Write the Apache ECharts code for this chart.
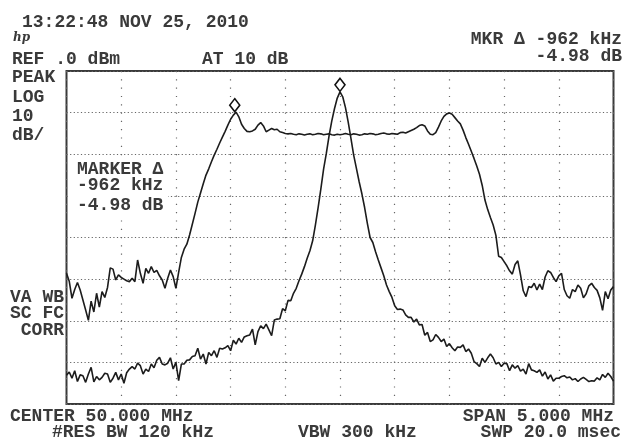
<!DOCTYPE html>
<html>
<head>
<meta charset="utf-8">
<script src="https://cdn.jsdelivr.net/npm/echarts@6/dist/echarts.min.js"></script>
<style>
  html, body { margin: 0; padding: 0; background: #fff; }
  #chart { width: 626px; height: 440px; }
</style>
</head>
<body>
<div id="chart"></div>
<script>
// sweep: 47.5 .. 52.5 MHz, 201 points (0.025 MHz apart)
var startFreq = 47.5;
var stopFreq = 52.5;
var freqStep = 0.025;

// wide (flat-top) signal trace, dBm
var wideLevels = [
  -48.6,-50.5,-54.6,-52.5,-50.8,-52.6,-55.0,-57.4,-59.9,-55.3,
  -57.9,-53.4,-56.7,-53.0,-54.4,-52.0,-47.3,-47.6,-50.2,-49.0,
  -49.6,-50.0,-50.4,-50.6,-49.8,-50.6,-45.4,-48.6,-51.0,-47.4,
  -48.6,-47.0,-48.4,-47.9,-49.2,-50.2,-52.2,-49.8,-47.8,-49.4,
  -52.2,-48.4,-44.8,-42.8,-41.6,-39.4,-36.8,-34.2,-31.5,-29.3,
  -27.1,-25.0,-23.5,-21.8,-20.2,-18.8,-17.3,-15.9,-14.5,-13.0,
  -11.6,-10.6,-9.9,-11.0,-12.8,-13.8,-14.5,-14.6,-14.4,-14.0,
  -13.0,-12.4,-13.2,-14.6,-14.2,-13.8,-14.1,-14.0,-14.6,-14.8,
  -15.0,-15.1,-15.0,-15.2,-15.3,-15.1,-15.2,-15.4,-15.2,-15.1,
  -15.3,-15.2,-15.0,-15.1,-15.3,-15.2,-15.1,-15.3,-15.4,-15.2,
  -15.3,-15.2,-15.0,-15.2,-15.3,-15.1,-15.2,-15.4,-15.3,-15.1,
  -15.2,-15.0,-15.1,-15.3,-15.2,-15.0,-14.9,-15.1,-15.2,-15.0,
  -15.1,-15.2,-14.8,-14.7,-14.9,-14.6,-14.3,-14.0,-13.6,-13.1,
  -12.9,-13.2,-14.4,-15.2,-15.3,-14.8,-13.5,-12.0,-10.9,-10.3,
  -10.1,-10.4,-11.2,-12.0,-12.7,-14.2,-16.0,-17.6,-19.3,-21.0,
  -22.8,-24.8,-27.5,-31.0,-33.3,-35.2,-37.0,-39.5,-44.5,-44.8,
  -45.8,-46.8,-48.0,-48.8,-46.5,-45.6,-49.0,-52.8,-54.2,-51.8,
  -52.0,-51.0,-52.6,-51.2,-52.5,-49.5,-48.0,-48.4,-49.6,-50.6,
  -49.2,-48.6,-52.5,-54.0,-54.6,-52.5,-53.0,-51.4,-52.2,-54.5,
  -53.5,-51.6,-51.0,-52.0,-52.7,-54.5,-57.5,-53.0,-54.7,-52.6,
  -51.8
];

// narrow carrier trace, dBm
var toneLevels = [
  -73.1,-72.3,-73.8,-72.0,-74.6,-73.0,-73.2,-74.8,-72.8,-71.2,
  -74.7,-73.4,-74.2,-73.6,-72.6,-72.8,-74.8,-73.8,-72.4,-74.2,
  -72.8,-75.0,-72.5,-71.6,-71.0,-71.6,-70.2,-70.8,-72.8,-71.6,
  -72.2,-70.4,-71.3,-69.5,-68.8,-70.4,-70.6,-70.2,-68.9,-71.6,
  -70.0,-74.4,-70.4,-70.4,-69.5,-69.4,-68.6,-68.4,-66.6,-69.2,
  -68.0,-70.4,-67.6,-68.4,-67.2,-68.8,-66.6,-66.8,-66.5,-66.0,
  -67.2,-64.7,-65.6,-64.2,-65.2,-63.9,-63.6,-63.4,-62.0,-65.8,
  -62.6,-61.2,-61.9,-60.8,-62.2,-63.6,-59.8,-59.6,-59.5,-57.1,
  -57.6,-55.1,-55.2,-53.4,-52.2,-50.4,-48.8,-47.0,-45.0,-43.2,
  -40.8,-37.0,-32.8,-28.3,-23.6,-19.8,-15.6,-12.0,-9.0,-6.5,
  -5.0,-6.2,-8.8,-12.3,-16.2,-20.2,-23.4,-26.6,-29.5,-32.8,
  -36.6,-40.0,-41.2,-43.4,-45.4,-47.3,-49.2,-51.4,-53.0,-54.4,
  -56.4,-57.3,-57.2,-57.4,-58.6,-59.2,-59.2,-60.3,-59.6,-61.0,
  -60.9,-63.5,-62.8,-65.0,-64.6,-63.3,-64.0,-65.0,-64.4,-66.2,
  -65.5,-66.5,-67.2,-66.3,-66.4,-65.8,-67.4,-66.8,-67.8,-69.8,
  -70.3,-71.0,-69.0,-70.0,-68.9,-68.0,-68.9,-70.4,-70.0,-71.0,
  -70.2,-70.3,-72.0,-70.6,-71.4,-70.8,-72.1,-71.6,-72.8,-70.3,
  -71.8,-72.0,-72.4,-71.8,-73.3,-72.3,-74.0,-73.0,-74.5,-73.8,
  -73.8,-73.4,-73.2,-73.7,-73.5,-74.2,-73.9,-74.6,-74.0,-73.6,
  -74.1,-74.6,-74.4,-74.5,-73.7,-74.2,-72.9,-73.6,-72.6,-73.4,
  -74.5
];

// markers: [MHz, dBm]
var deltaMarker = [49.038, -9.9];
var refMarker = [50.0, -5.0];

// screen annotations
var headerText = ['13:22:48 NOV 25, 2010', 'REF .0 dBm', 'AT 10 dB', 'MKR \u0394 -962 kHz', '-4.98 dB'];
var leftText = ['PEAK', 'LOG', '10', 'dB/'];
var markerText = ['MARKER \u0394', '-962 kHz', '-4.98 dB'];
var corrText = ['VA WB', 'SC FC', 'CORR'];
var footerText = ['CENTER 50.000 MHz', 'SPAN 5.000 MHz', '#RES BW 120 kHz', 'VBW 300 kHz', 'SWP 20.0 msec'];

function toPairs(levels) {
  return levels.map(function (v, i) {
    return [startFreq + i * freqStep, v];
  });
}

var FONT = 'bold 18px "Liberation Mono", "DejaVu Sans Mono", monospace';
var INK = '#3a3a3a';

function txt(s, x, y, align) {
  return {
    type: 'text', z: 10,
    style: { text: s, x: x, y: y, font: FONT, fill: INK, align: align || 'left', verticalAlign: 'middle' }
  };
}

var graphics = [
  // white patch behind the marker readout inside the graticule
  { type: 'rect', z: 1, shape: { x: 70, y: 160, width: 98, height: 56 }, style: { fill: '#fff' } },
  { type: 'text', z: 10, style: { text: 'hp', x: 13, y: 38, font: 'italic bold 12px "DejaVu Serif", serif', fill: INK, verticalAlign: 'middle' } },
  txt(headerText[0], 22, 22),
  txt(headerText[1], 12, 59),
  txt(headerText[2], 202, 59),
  txt(headerText[3], 622, 39, 'right'),
  txt(headerText[4], 622, 56, 'right'),
  txt(leftText[0], 12, 77),
  txt(leftText[1], 12, 97),
  txt(leftText[2], 12, 116),
  txt(leftText[3], 12, 135),
  txt(markerText[0], 77, 169),
  txt(markerText[1], 77, 185),
  txt(markerText[2], 77, 205),
  txt(corrText[0], 64, 297, 'right'),
  txt(corrText[1], 64, 313, 'right'),
  txt(corrText[2], 64, 330, 'right'),
  txt(footerText[0], 10, 416),
  txt(footerText[1], 614, 416, 'right'),
  txt(footerText[2], 52, 432),
  txt(footerText[3], 298, 432),
  txt(footerText[4], 621, 432, 'right')
];

var chart = echarts.init(document.getElementById('chart'), null, { renderer: 'canvas' });

var option = {
  animation: false,
  backgroundColor: '#fff',
  grid: {
    left: 66.5, top: 71, right: 12.5, bottom: 36,
    show: true, borderColor: '#3a3a3a', borderWidth: 2, backgroundColor: 'transparent'
  },
  xAxis: {
    type: 'value', min: startFreq, max: stopFreq, interval: 0.5,
    axisLine: { show: false }, axisTick: { show: false }, axisLabel: { show: false },
    splitLine: { show: true, lineStyle: { color: '#666', width: 1.2, type: [1.2, 7.1] } }
  },
  yAxis: {
    type: 'value', min: -80, max: 0, interval: 10,
    axisLine: { show: false }, axisTick: { show: false }, axisLabel: { show: false },
    splitLine: { show: true, lineStyle: { color: '#666', width: 1.2, type: [1.2, 2.4] } }
  },
  series: [
    {
      type: 'line', name: 'wide', data: toPairs(wideLevels), z: 3,
      symbol: 'none', lineStyle: { color: '#1c1c1c', width: 1.6 },
      markPoint: {
        symbol: 'diamond', symbolSize: [10, 13], symbolOffset: [0, -7],
        itemStyle: { color: '#fff', borderColor: '#111', borderWidth: 1.6 },
        label: { show: false },
        data: [{ coord: deltaMarker }]
      }
    },
    {
      type: 'line', name: 'tone', data: toPairs(toneLevels), z: 3,
      symbol: 'none', lineStyle: { color: '#1c1c1c', width: 1.6 },
      markPoint: {
        symbol: 'diamond', symbolSize: [10, 13], symbolOffset: [0, -7],
        itemStyle: { color: '#fff', borderColor: '#111', borderWidth: 1.6 },
        label: { show: false },
        data: [{ coord: refMarker }]
      }
    }
  ],
  graphic: graphics
};

chart.setOption(option);
</script>
</body>
</html>
